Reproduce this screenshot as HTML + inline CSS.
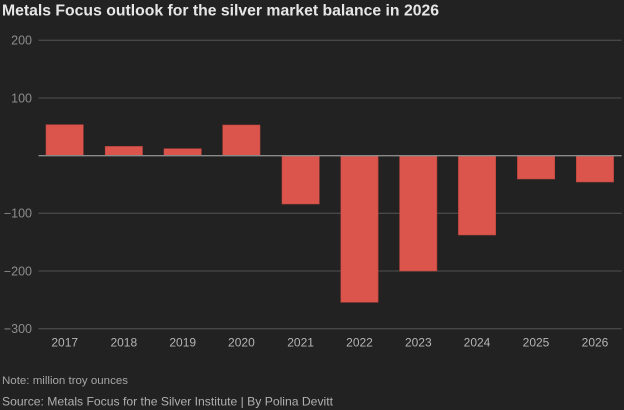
<!DOCTYPE html>
<html><head><meta charset="utf-8"><style>
html,body{margin:0;padding:0;background:#222222;}
svg{display:block;}
text{font-family:"Liberation Sans",sans-serif;}
</style></head><body>
<svg width="624" height="410" viewBox="0 0 624 410" xmlns="http://www.w3.org/2000/svg">
<rect width="624" height="410" fill="#222222"/>
<text x="2" y="15.5" font-size="15.5" font-weight="bold" fill="#e6e6e6" textLength="437" lengthAdjust="spacingAndGlyphs">Metals Focus outlook for the silver market balance in 2026</text>
<g stroke="#474747" stroke-width="1.3">
<line x1="38.5" y1="40.3" x2="621.7" y2="40.3"/>
<line x1="38.5" y1="98" x2="621.7" y2="98"/>
<line x1="38.5" y1="213.3" x2="621.7" y2="213.3"/>
<line x1="38.5" y1="271" x2="621.7" y2="271"/>
<line x1="38.5" y1="328.7" x2="621.7" y2="328.7"/>
</g>
<g font-size="12.5" fill="#8c8c8c" text-anchor="end">
<text x="32" y="44.6">200</text>
<text x="32" y="102.3">100</text>
<text x="32" y="217.6">−100</text>
<text x="32" y="275.3">−200</text>
<text x="32" y="333">−300</text>
</g>
<g fill="#dc554c" stroke="#b8443d" stroke-width="0.6">
<rect x="46" y="124.7" width="37.3" height="31"/>
<rect x="105.2" y="146.4" width="37.3" height="9.3"/>
<rect x="164" y="148.7" width="37.3" height="7"/>
<rect x="222.7" y="125" width="37.3" height="30.7"/>
<rect x="282" y="155.7" width="37.3" height="48.3"/>
<rect x="340.8" y="155.7" width="37.3" height="146.6"/>
<rect x="399.6" y="155.7" width="37.3" height="115.3"/>
<rect x="458.4" y="155.7" width="37.3" height="79.3"/>
<rect x="517.4" y="155.7" width="37.3" height="23.3"/>
<rect x="576.3" y="155.7" width="37.3" height="26.3"/>
</g>
<line x1="38.5" y1="155.7" x2="621.7" y2="155.7" stroke="#8a8a8a" stroke-width="1.4"/>
<g font-size="12" fill="#b4b4b4" text-anchor="middle">
<text x="64.7" y="346.6">2017</text>
<text x="123.8" y="346.6">2018</text>
<text x="182.7" y="346.6">2019</text>
<text x="241.4" y="346.6">2020</text>
<text x="300.6" y="346.6">2021</text>
<text x="359.5" y="346.6">2022</text>
<text x="418.3" y="346.6">2023</text>
<text x="477" y="346.6">2024</text>
<text x="536" y="346.6">2025</text>
<text x="595" y="346.6">2026</text>
</g>
<text x="2" y="384" font-size="11" fill="#a6a6a6" textLength="126" lengthAdjust="spacingAndGlyphs">Note: million troy ounces</text>
<text x="2" y="405.5" font-size="12" fill="#b0b0b0" textLength="331" lengthAdjust="spacingAndGlyphs">Source: Metals Focus for the Silver Institute | By Polina Devitt</text>
</svg>
</body></html>
